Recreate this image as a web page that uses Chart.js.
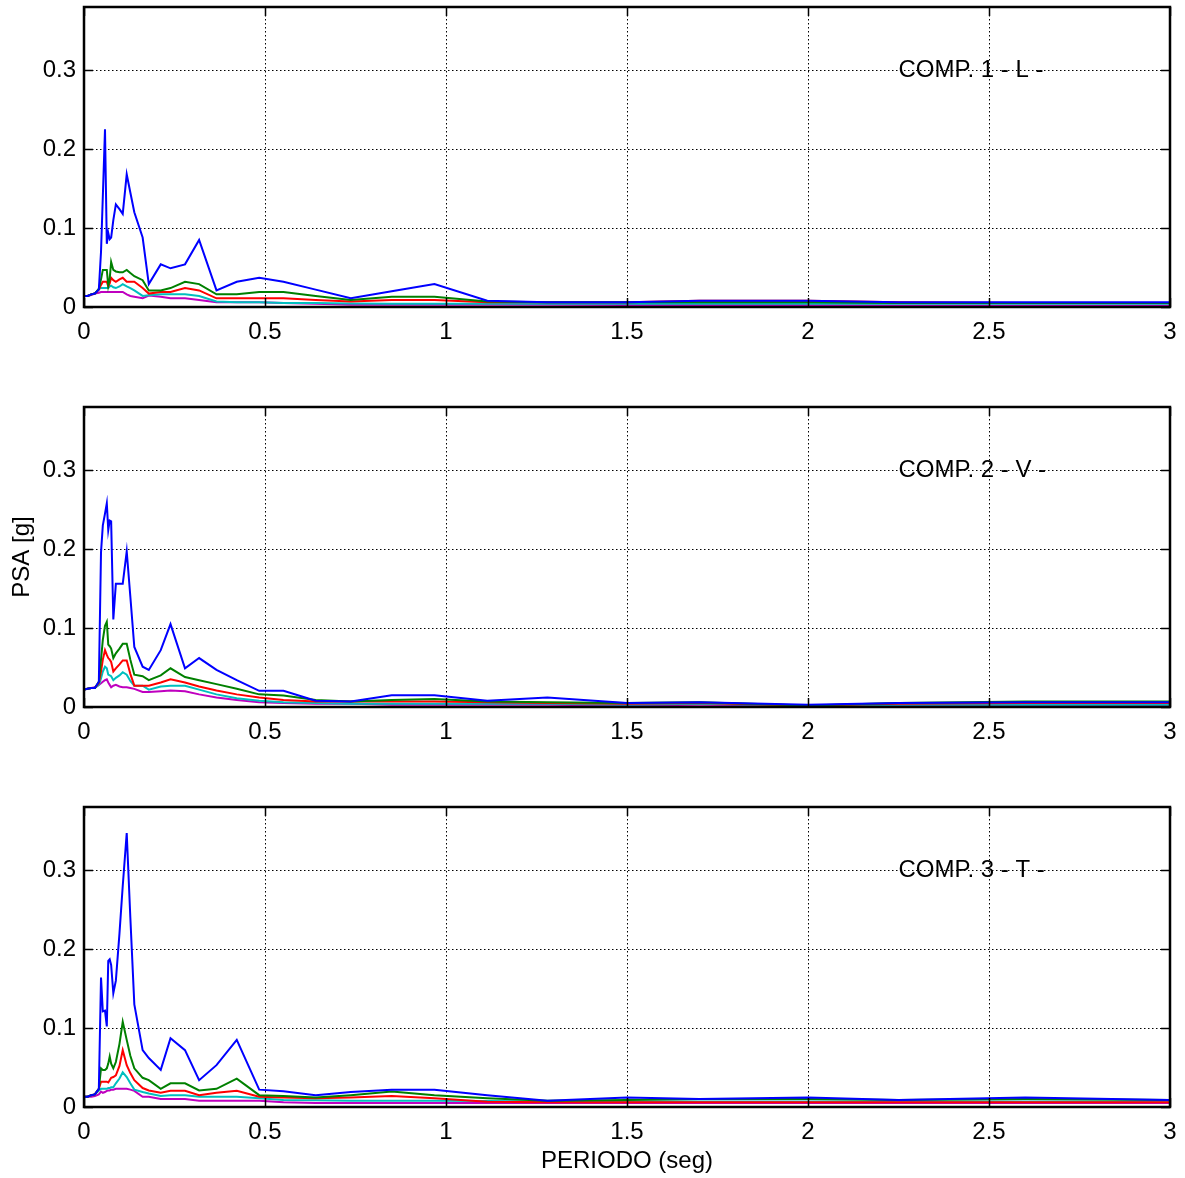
<!DOCTYPE html>
<html>
<head>
<meta charset="utf-8">
<script src="https://cdn.jsdelivr.net/npm/chart.js@4/dist/chart.umd.min.js"></script>
<style>
    body { margin: 0; background: #fff; }
    .panel { position: absolute; left: 0; width: 1185px; }
    #c1 { top: 0; height: 400px; }
    #c2 { top: 400px; height: 400px; }
    #c3 { top: 800px; height: 378px; }
</style>
</head>
<body>
<div class="panel" id="c1"><canvas id="comp1"></canvas></div>
<div class="panel" id="c2"><canvas id="comp2"></canvas></div>
<div class="panel" id="c3"><canvas id="comp3"></canvas></div>
<script>
// periodos (seg) comunes a los tres espectros
var periodos = [0, 0.01, 0.02, 0.03, 0.041, 0.047, 0.052, 0.058, 0.063, 0.067,
    0.071, 0.075, 0.081, 0.088, 0.098, 0.107, 0.118, 0.128, 0.139, 0.162,
    0.179, 0.212, 0.239, 0.279, 0.318, 0.366, 0.422, 0.484, 0.551, 0.64,
    0.737, 0.85, 0.968, 1.114, 1.28, 1.5, 1.7, 2.0, 2.25, 2.6, 3.0];

var ticksX = [0, 0.5, 1, 1.5, 2, 2.5, 3];
var ticksY = [0, 0.1, 0.2, 0.3];
var titulos = ['COMP. 1 - L -', 'COMP. 2 - V -', 'COMP. 3 - T -'];
var colores = ['#0000ff', '#008000', '#ff0000', '#00bfbf', '#bf00bf'];

// COMP. 1 - L -
var comp1Azul = [0.014, 0.014, 0.016, 0.017, 0.022, 0.07, 0.14, 0.225, 0.08, 0.094,
    0.086, 0.088, 0.11, 0.130, 0.124, 0.118, 0.168, 0.145, 0.120, 0.088,
    0.029, 0.054, 0.049, 0.054, 0.085, 0.021, 0.032, 0.037, 0.032, 0.022,
    0.011, 0.020, 0.029, 0.008, 0.006, 0.006, 0.008, 0.008, 0.006, 0.006, 0.006];
var comp1Verde = [0.014, 0.014, 0.016, 0.017, 0.023, 0.035, 0.047, 0.047, 0.047, 0.027,
    0.036, 0.057, 0.047, 0.045, 0.044, 0.044, 0.047, 0.043, 0.039, 0.034,
    0.021, 0.021, 0.024, 0.032, 0.029, 0.016, 0.016, 0.019, 0.019, 0.014,
    0.009, 0.013, 0.013, 0.007, 0.006, 0.006, 0.006, 0.006, 0.005, 0.005, 0.005];
var comp1Rojo = [0.014, 0.014, 0.016, 0.017, 0.022, 0.028, 0.032, 0.032, 0.032, 0.026,
    0.030, 0.037, 0.034, 0.032, 0.035, 0.037, 0.032, 0.032, 0.032, 0.024,
    0.017, 0.019, 0.019, 0.024, 0.021, 0.011, 0.011, 0.011, 0.011, 0.009,
    0.007, 0.009, 0.009, 0.006, 0.006, 0.006, 0.008, 0.008, 0.006, 0.005, 0.005];
var comp1Cian = [0.014, 0.014, 0.016, 0.017, 0.023, 0.024, 0.024, 0.024, 0.024, 0.024,
    0.026, 0.027, 0.025, 0.024, 0.026, 0.029, 0.026, 0.024, 0.021, 0.014,
    0.015, 0.016, 0.016, 0.016, 0.014, 0.007, 0.006, 0.006, 0.005, 0.005,
    0.0045, 0.004, 0.004, 0.004, 0.004, 0.004, 0.004, 0.004, 0.004, 0.004, 0.004];
var comp1Magenta = [0.014, 0.014, 0.015, 0.017, 0.018, 0.019, 0.019, 0.019, 0.019, 0.019,
    0.019, 0.019, 0.019, 0.019, 0.019, 0.019, 0.016, 0.014, 0.013, 0.011,
    0.0146, 0.013, 0.011, 0.011, 0.009, 0.006, 0.006, 0.006, 0.005, 0.004,
    0.003, 0.003, 0.003, 0.003, 0.003, 0.0025, 0.0025, 0.0025, 0.002, 0.002, 0.002];

// COMP. 2 - V -
var comp2Azul = [0.022, 0.023, 0.024, 0.024, 0.032, 0.196, 0.230, 0.245, 0.258, 0.224,
    0.236, 0.235, 0.111, 0.156, 0.156, 0.156, 0.197, 0.140, 0.076, 0.051,
    0.047, 0.072, 0.105, 0.049, 0.062, 0.047, 0.034, 0.0205, 0.0205, 0.008,
    0.007, 0.015, 0.015, 0.008, 0.012, 0.005, 0.006, 0.003, 0.005, 0.006, 0.006];
var comp2Verde = [0.022, 0.023, 0.024, 0.024, 0.032, 0.06, 0.085, 0.103, 0.108, 0.079,
    0.077, 0.074, 0.062, 0.068, 0.074, 0.080, 0.080, 0.06, 0.041, 0.039,
    0.034, 0.040, 0.049, 0.038, 0.034, 0.029, 0.023, 0.016, 0.0145, 0.009,
    0.007, 0.009, 0.010, 0.007, 0.006, 0.005, 0.006, 0.002, 0.005, 0.007, 0.007];
var comp2Rojo = [0.022, 0.023, 0.024, 0.024, 0.030, 0.045, 0.06, 0.072, 0.066, 0.062,
    0.060, 0.057, 0.045, 0.049, 0.054, 0.059, 0.059, 0.042, 0.027, 0.027,
    0.027, 0.031, 0.035, 0.031, 0.026, 0.021, 0.016, 0.012, 0.009, 0.007,
    0.007, 0.007, 0.007, 0.006, 0.005, 0.004, 0.005, 0.002, 0.004, 0.005, 0.005];
var comp2Cian = [0.022, 0.023, 0.024, 0.024, 0.028, 0.036, 0.045, 0.051, 0.049, 0.041,
    0.040, 0.039, 0.034, 0.037, 0.040, 0.044, 0.041, 0.033, 0.027, 0.027,
    0.022, 0.026, 0.027, 0.027, 0.022, 0.016, 0.011, 0.008, 0.006, 0.005,
    0.004, 0.004, 0.004, 0.004, 0.004, 0.003, 0.004, 0.002, 0.003, 0.003, 0.003];
var comp2Magenta = [0.022, 0.023, 0.024, 0.025, 0.028, 0.030, 0.032, 0.034, 0.035, 0.031,
    0.028, 0.025, 0.027, 0.028, 0.026, 0.025, 0.025, 0.024, 0.023, 0.019,
    0.019, 0.020, 0.021, 0.020, 0.016, 0.012, 0.009, 0.006, 0.005, 0.004,
    0.004, 0.003, 0.003, 0.003, 0.003, 0.002, 0.003, 0.002, 0.002, 0.002, 0.002];

// COMP. 3 - T -
var comp3Azul = [0.013, 0.013, 0.015, 0.016, 0.023, 0.164, 0.121, 0.122, 0.102, 0.185,
    0.187, 0.180, 0.144, 0.160, 0.22, 0.28, 0.347, 0.24, 0.130, 0.072,
    0.062, 0.047, 0.087, 0.072, 0.034, 0.053, 0.085, 0.022, 0.020, 0.015,
    0.019, 0.022, 0.022, 0.015, 0.008, 0.012, 0.010, 0.012, 0.009, 0.012, 0.009];
var comp3Verde = [0.013, 0.013, 0.015, 0.016, 0.023, 0.049, 0.047, 0.047, 0.049, 0.055,
    0.064, 0.055, 0.049, 0.057, 0.08, 0.108, 0.085, 0.065, 0.049, 0.037,
    0.034, 0.023, 0.030, 0.030, 0.021, 0.023, 0.036, 0.015, 0.014, 0.012,
    0.015, 0.0196, 0.015, 0.011, 0.008, 0.009, 0.010, 0.010, 0.009, 0.010, 0.009];
var comp3Rojo = [0.013, 0.013, 0.015, 0.016, 0.023, 0.032, 0.032, 0.032, 0.032, 0.031,
    0.034, 0.037, 0.038, 0.040, 0.052, 0.072, 0.053, 0.043, 0.034, 0.024,
    0.021, 0.018, 0.0205, 0.0205, 0.015, 0.018, 0.0205, 0.013, 0.012, 0.011,
    0.012, 0.014, 0.011, 0.0065, 0.006, 0.006, 0.006, 0.006, 0.006, 0.006, 0.006];
var comp3Cian = [0.013, 0.013, 0.015, 0.016, 0.021, 0.023, 0.023, 0.023, 0.023, 0.024,
    0.024, 0.025, 0.025, 0.030, 0.036, 0.044, 0.038, 0.030, 0.022, 0.019,
    0.017, 0.014, 0.015, 0.015, 0.013, 0.013, 0.013, 0.011, 0.009, 0.0085,
    0.008, 0.008, 0.008, 0.0075, 0.007, 0.007, 0.007, 0.007, 0.007, 0.007, 0.007];
var comp3Magenta = [0.013, 0.013, 0.013, 0.014, 0.016, 0.0196, 0.018, 0.019, 0.0205, 0.021,
    0.021, 0.022, 0.022, 0.023, 0.023, 0.023, 0.023, 0.022, 0.0205, 0.013,
    0.013, 0.010, 0.010, 0.010, 0.008, 0.008, 0.008, 0.008, 0.006, 0.005,
    0.005, 0.005, 0.005, 0.005, 0.005, 0.005, 0.005, 0.005, 0.005, 0.005, 0.005];

var fuente = '"Liberation Sans", Arial, Helvetica, sans-serif';

function serie(valores, color) {
    return {
        data: periodos.map(function (t, i) { return { x: t, y: valores[i] }; }),
        borderColor: color,
        borderWidth: 2,
        pointRadius: 0,
        fill: false,
        tension: 0
    };
}

// texto de la componente (queda debajo de la grilla, como en el original)
var textoPlugin = {
    id: 'texto',
    beforeDraw: function (chart) {
        var ctx = chart.ctx;
        var x = chart.scales.x.getPixelForValue(2.25);
        var y = chart.scales.y.getPixelForValue(0.30);
        ctx.save();
        ctx.fillStyle = '#000';
        ctx.font = '24px ' + fuente;
        ctx.textAlign = 'left';
        ctx.textBaseline = 'middle';
        ctx.fillText(chart.options.plugins.texto.label, x, y);
        ctx.restore();
    }
};

// marco y marcas hacia adentro
var marcoPlugin = {
    id: 'marco',
    afterDraw: function (chart) {
        var ctx = chart.ctx;
        var a = chart.chartArea;
        var sx = chart.scales.x, sy = chart.scales.y;
        var len = 9;
        ctx.save();
        ctx.strokeStyle = '#000';
        ctx.lineWidth = 1.5;
        ticksX.forEach(function (v) {
            var px = Math.round(sx.getPixelForValue(v)) + 0.5;
            ctx.beginPath();
            ctx.moveTo(px, a.bottom); ctx.lineTo(px, a.bottom - len);
            ctx.moveTo(px, a.top); ctx.lineTo(px, a.top + len);
            ctx.stroke();
        });
        ticksY.forEach(function (v) {
            var py = Math.round(sy.getPixelForValue(v)) + 0.5;
            ctx.beginPath();
            ctx.moveTo(a.left, py); ctx.lineTo(a.left + len, py);
            ctx.moveTo(a.right, py); ctx.lineTo(a.right - len, py);
            ctx.stroke();
        });
        ctx.lineWidth = 2.5;
        ctx.strokeRect(a.left, a.top, a.right - a.left, a.bottom - a.top);
        ctx.restore();
    }
};

function crearGrafico(id, idx, series, alturaEjeX, conTituloY, conTituloX) {
    var ctx = document.getElementById(id).getContext('2d');
    return new Chart(ctx, {
        type: 'line',
        data: {
            datasets: series.map(function (v, i) { return serie(v, colores[i]); })
        },
        plugins: [textoPlugin, marcoPlugin],
        options: {
            responsive: true,
            maintainAspectRatio: false,
            animation: false,
            events: [],
            layout: { padding: { left: 0, right: 15, top: 7, bottom: 0 } },
            plugins: {
                legend: { display: false },
                tooltip: { enabled: false },
                texto: { label: titulos[idx] }
            },
            scales: {
                x: {
                    type: 'linear',
                    min: 0,
                    max: 3,
                    afterBuildTicks: function (scale) {
                        scale.ticks = ticksX.map(function (v) { return { value: v }; });
                    },
                    afterFit: function (scale) {
                        scale.height = alturaEjeX;
                        scale.paddingLeft = 0;
                        scale.paddingRight = 0;
                    },
                    ticks: {
                        color: '#000',
                        font: { family: fuente, size: 24 },
                        padding: 11,
                        maxRotation: 0,
                        callback: function (v) { return String(v); }
                    },
                    grid: { color: '#000', lineWidth: 1, drawTicks: false },
                    border: { display: false, dash: [1.5, 2.5] },
                    title: {
                        display: conTituloX,
                        text: 'PERIODO (seg)',
                        color: '#000',
                        font: { family: fuente, size: 24 },
                        padding: { top: 0, bottom: 2 }
                    }
                },
                y: {
                    type: 'linear',
                    min: 0,
                    max: 0.38,
                    afterBuildTicks: function (scale) {
                        scale.ticks = ticksY.map(function (v) { return { value: v }; });
                    },
                    afterFit: function (scale) {
                        scale.width = 84;
                        scale.paddingTop = 0;
                        scale.paddingBottom = 0;
                    },
                    ticks: {
                        color: '#000',
                        font: { family: fuente, size: 24 },
                        padding: 8,
                        callback: function (v) { return String(v); }
                    },
                    grid: { color: '#000', lineWidth: 1, drawTicks: false },
                    border: { display: false, dash: [1.5, 2.5] },
                    title: {
                        display: conTituloY,
                        text: 'PSA [g]',
                        color: '#000',
                        font: { family: fuente, size: 24 },
                        padding: { top: 8, bottom: 0 }
                    }
                }
            }
        }
    });
}

crearGrafico('comp1', 0, [comp1Azul, comp1Verde, comp1Rojo, comp1Cian, comp1Magenta], 93, false, false);
crearGrafico('comp2', 1, [comp2Azul, comp2Verde, comp2Rojo, comp2Cian, comp2Magenta], 93, true, false);
crearGrafico('comp3', 2, [comp3Azul, comp3Verde, comp3Rojo, comp3Cian, comp3Magenta], 71, false, true);
</script>
</body>
</html>
